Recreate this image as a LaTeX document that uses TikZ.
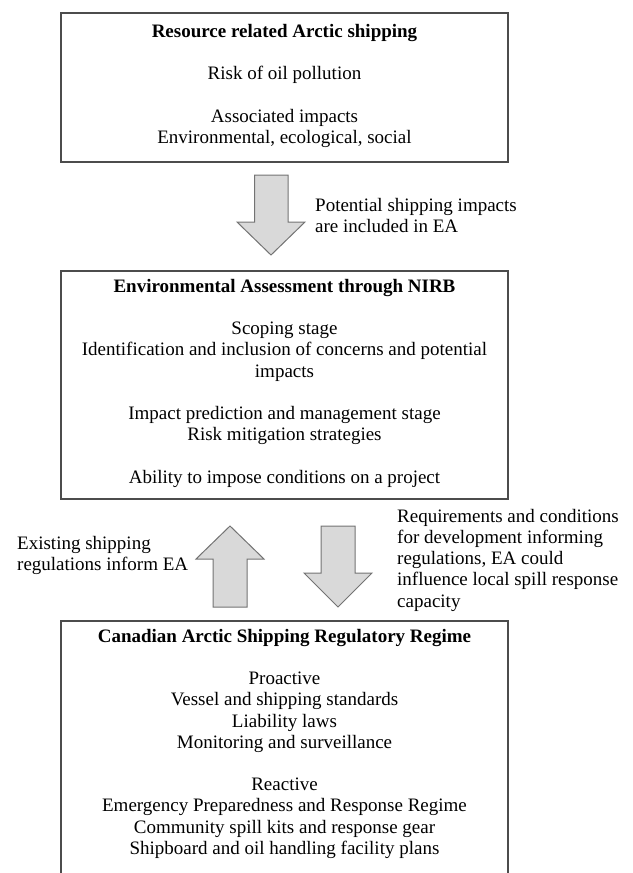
\documentclass[tikz,border=0pt]{standalone}
\usepackage{fontspec}
\setmainfont{Liberation Serif}
\begin{document}
\begin{tikzpicture}[x=1pt,y=-1pt,
  box/.style={draw=black!70, line width=1.1pt, rectangle, inner sep=0pt, minimum width=447pt},
  boxtext/.style={anchor=north, inner sep=0pt, align=center, font=\fontsize{19}{21.2}\selectfont},
  labeltext/.style={anchor=north west, inner sep=0pt, align=left, font=\fontsize{19}{21.2}\selectfont},
  blockarr/.style={draw=black!55, line width=1pt, fill=black!15, line join=miter}]
\clip (0,0) rectangle (632,873);
% boxes
\node[box, minimum height=149pt] (b1) at (284.5,87.5) {};
\node[box, minimum height=228pt] (b2) at (284.5,385) {};
\node[box, minimum height=274pt] (b3) at (284.5,758) {};
% box texts
\node[boxtext] (t1) at (284.5,24) {\textbf{Resource related Arctic shipping}\\[21.2pt]
Risk of oil pollution\\[21.2pt]
Associated impacts\\
Environmental, ecological, social};
\node[boxtext] (t2) at (284.5,279) {\textbf{Environmental Assessment through NIRB}\\[21.2pt]
Scoping stage\\
Identification and inclusion of concerns and potential\\
impacts\\[21.2pt]
Impact prediction and management stage\\
Risk mitigation strategies\\[21.2pt]
Ability to impose conditions on a project};
\node[boxtext] (t3) at (284.5,629) {\textbf{Canadian Arctic Shipping Regulatory Regime}\\[21.2pt]
Proactive\\
Vessel and shipping standards\\
Liability laws\\
Monitoring and surveillance\\[21.2pt]
Reactive\\
Emergency Preparedness and Response Regime\\
Community spill kits and response gear\\
Shipboard and oil handling facility plans};
% block arrows
\draw[blockarr] (254.5,175) -- (288,175) -- (288,222) -- (305,222) -- (271,255) -- (237,222) -- (254.5,222) -- cycle;
\draw[blockarr] (213,607) -- (247,607) -- (247,559) -- (264,559) -- (230,526) -- (196,559) -- (213,559) -- cycle;
\draw[blockarr] (321,526) -- (355,526) -- (355,573) -- (372,573) -- (338,607) -- (304,573) -- (321,573) -- cycle;
% labels
\node[labeltext] (l1) at (315,198) {Potential shipping impacts\\are included in EA};
\node[labeltext] (l2) at (17,536) {Existing shipping\\regulations inform EA};
\node[labeltext] (l3) at (397,509) {Requirements and conditions\\for development informing\\regulations, EA could\\influence local spill response\\capacity};
\end{tikzpicture}
\end{document}
